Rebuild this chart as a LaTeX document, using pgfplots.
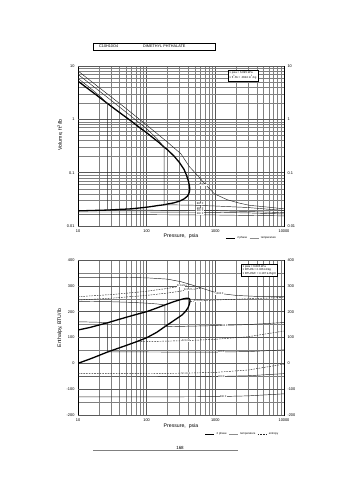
\documentclass[border=0pt]{standalone}
\usepackage{fontspec}
\setmainfont{Liberation Sans}
\usepackage{pgfplots}
\pgfplotsset{compat=1.18}
\newcommand{\tk}{\fontsize{3.9}{4.2}\selectfont}
\newcommand{\lb}{\fontsize{5.2}{5.7}\selectfont}
\newcommand{\sm}{\fontsize{2.8}{3.3}\selectfont}
\tikzset{
  satl/.style={black, line width=1.3bp},
  isol/.style={black!85, line width=0.45bp},
  entl/.style={black!85, line width=0.45bp, dash pattern=on 1.6bp off 1.1bp},
  labl/.style={font=\fontsize{2.6}{2.8}\selectfont, fill=white, inner sep=0.3bp},
}
\begin{document}
\begin{tikzpicture}
\path[use as bounding box] (0bp,0bp) rectangle (355bp,480bp);
% title box
\draw[line width=0.45bp] (93bp,430bp) rectangle (215bp,437bp);
\node[anchor=west, inner sep=0pt, font=\fontsize{3.8}{4}\selectfont] at (99bp,433.5bp) {C10H10O4};
\node[anchor=west, inner sep=0pt, font=\fontsize{3.8}{4}\selectfont] at (143bp,433.5bp) {DIMETHYL PHTHALATE};

% ================= TOP: Volume =================
\begin{axis}[
  at={(78bp,254bp)}, anchor=south west, scale only axis, width=206bp, height=160bp,
  xmode=log, ymode=log, xmin=10, xmax=10000, ymin=0.01, ymax=10,
  xtick={10,100,1000,10000},
  xticklabels={\mbox{10},\mbox{100},\mbox{1000},\mbox{10000}},
  minor xtick={20,30,40,50,60,70,80,90,200,300,400,500,600,700,800,900,2000,3000,4000,5000,6000,7000,8000,9000},
  ytick={0.01,0.1,1,10},
  yticklabels={\mbox{0.01},\mbox{0.1},\mbox{1},\mbox{10}},
  minor ytick={0.02,0.03,0.04,0.05,0.06,0.07,0.08,0.09,0.2,0.3,0.4,0.5,0.6,0.7,0.8,0.9,2,3,4,5,6,7,8,9},
  extra y ticks={0.01,0.1,1,10},
  extra y tick labels={\mbox{0.01},\mbox{0.1},\mbox{1},\mbox{10}},
  extra y tick style={yticklabel pos=right},
  grid=both,
  major grid style={black!65, line width=0.4bp},
  minor grid style={black!50, line width=0.3bp},
  major tick length=0pt, minor tick length=0pt,
  tick label style={font=\tk},
  axis line style={line width=0.55bp},
  xlabel={Pressure,\ \ psia},
  xlabel style={font=\lb, at={(axis description cs:0.5,-0.065)}, anchor=center},
  ylabel={Volume, ft\textsuperscript{3}/lb},
  ylabel style={font=\lb, at={(axis description cs:-0.088,0.57)}, anchor=center},
  legend style={draw=none, fill=none, font=\sm, legend columns=-1,
      at={(axis description cs:0.7,-0.075)}, anchor=west},
  legend image code/.code={\draw[#1] (0bp,0bp) -- (9bp,0bp);},
]
\addlegendimage{satl, line width=0.9bp}\addlegendentry{2 phase\hspace{4bp}}
\addlegendimage{black!45, line width=0.8bp}\addlegendentry{temperature}
% saturation dome
\addplot[satl, forget plot] coordinates {
(10,5.2)(15,3.5)(20,2.65)(30,1.78)(40,1.35)(60,0.92)(80,0.69)(100,0.56)(150,0.37)(180,0.30)(200,0.27)(250,0.205)(300,0.155)(350,0.115)(380,0.09)(405,0.07)(418,0.058)(424,0.05)(420,0.044)(410,0.040)(390,0.036)(350,0.0322)(300,0.0292)(250,0.0272)(200,0.0258)(180,0.025)(150,0.0243)(100,0.0225)(60,0.021)(27,0.0199)(20,0.0197)(10,0.0192)};
% 1000 F
\addplot[isol, forget plot] coordinates {
(10,8.07)(20,4.0)(50,1.6)(100,0.78)(200,0.375)(316,0.225)(418,0.13)(525,0.095)(700,0.062)(970,0.040)(1500,0.031)(2200,0.027)(3100,0.0245)(6000,0.0225)(10000,0.021)};
% 800 F
\addplot[isol, forget plot] coordinates {
(10,6.97)(30,2.3)(60,1.13)(100,0.665)(140,0.44)(180,0.30)(180,0.025)(500,0.0245)(1000,0.0237)(3000,0.0222)(10000,0.0195)};
% 600 F
\addplot[isol, forget plot] coordinates {
(10,5.86)(15,3.88)(20,2.85)(27,1.97)(27,0.0199)(100,0.0198)(1000,0.0194)(3000,0.0187)(10000,0.0178)};
% 400 F
\addplot[isol, forget plot] coordinates {(10,0.0183)(100,0.0183)(1000,0.018)(3000,0.0176)(10000,0.0168)};
% 200 F
\addplot[isol, forget plot] coordinates {(10,0.0163)(100,0.0163)(1000,0.0161)(3000,0.0158)(10000,0.0155)};
\node[labl] at (axis cs:660,0.059) {1000 F};
\node[labl, anchor=south] at (axis cs:600,0.0245) {800 F};
\node[labl, anchor=south] at (axis cs:600,0.0196) {600 F};
\node[labl, anchor=south] at (axis cs:600,0.0181) {400 F};
\node[labl, anchor=south] at (axis cs:600,0.0161) {200 F};
\node[draw, line width=0.4bp, fill=white, anchor=north west, align=left, inner sep=1.5bp, font=\sm]
  at (axis description cs:0.727,0.975) {1 psia = 6.895 kPa\\1 ft\textsuperscript{3}/lb = .0624 m\textsuperscript{3}/kg};
\end{axis}

% ================= BOTTOM: Enthalpy =================
\begin{axis}[
  at={(78bp,65bp)}, anchor=south west, scale only axis, width=206bp, height=155bp,
  xmode=log, xmin=10, xmax=10000, ymin=-200, ymax=400,
  xtick={10,100,1000,10000},
  xticklabels={\mbox{10},\mbox{100},\mbox{1000},\mbox{10000}},
  minor xtick={20,30,40,50,60,70,80,90,200,300,400,500,600,700,800,900,2000,3000,4000,5000,6000,7000,8000,9000},
  ytick={-200,-100,0,100,200,300,400},
  yticklabels={\mbox{-200},\mbox{-100},\mbox{0},\mbox{100},\mbox{200},\mbox{300},\mbox{400}},
  minor ytick={-150,-50,50,150,250,350},
  extra y ticks={-200,-100,0,100,200,300,400},
  extra y tick labels={\mbox{-200},\mbox{-100},\mbox{0},\mbox{100},\mbox{200},\mbox{300},\mbox{400}},
  extra y tick style={yticklabel pos=right},
  grid=both,
  major grid style={black!65, line width=0.4bp},
  minor grid style={black!50, line width=0.3bp},
  major tick length=0pt, minor tick length=0pt,
  tick label style={font=\tk},
  axis line style={line width=0.55bp},
  xlabel={Pressure,\ \ psia},
  xlabel style={font=\lb, at={(axis description cs:0.5,-0.075)}, anchor=center},
  ylabel={Enthalpy, BTU/lb},
  ylabel style={font=\lb, at={(axis description cs:-0.088,0.56)}, anchor=center},
  legend style={draw=none, fill=none, font=\sm, legend columns=-1,
      at={(axis description cs:0.6,-0.123)}, anchor=west},
  legend image code/.code={\draw[#1] (0bp,0bp) -- (9bp,0bp);},
]
\addlegendimage{satl, line width=0.9bp}\addlegendentry{2 phase\hspace{4bp}}
\addlegendimage{black!45, line width=0.8bp}\addlegendentry{temperature\hspace{2bp}}
\addlegendimage{entl}\addlegendentry{entropy}
% dome
\addplot[satl, forget plot] coordinates {
(10,0)(15,17)(20,30)(27,44)(40,60)(50,69)(70,83)(100,99)(140,120)(184,142)(250,166)(327,187)(370,202)(400,215)(415,226)(425,236)(428,243)(422,249)(405,251.5)(380,252)(340,249.5)(300,245.5)(250,239)(184,226)(140,214)(100,200)(70,189)(50,178)(35,166)(27,157)(20,148)(15,139)(10,129)};
% isotherms
\addplot[isol, forget plot] coordinates {(10,161)(20,159)(27,157)(27,44)(100,44)(300,43.5)(1000,43.5)(3000,45.5)(10000,52)};
\addplot[isol, forget plot] coordinates {(10,240)(30,238.5)(60,236)(100,233)(140,230)(184,226)(184,142)(300,143)(1000,146)(3000,150)(10000,158)};
\addplot[isol, forget plot] coordinates {(10,333)(50,332.5)(100,331)(200,326)(316,316)(450,304)(620,292)(900,278)(1200,270)(2000,263)(4000,259)(10000,259)};
\addplot[isol, forget plot] coordinates {(10,-52)(100,-52)(1000,-51)(3000,-48)(10000,-40)};
\addplot[isol, forget plot] coordinates {(10,-130)(100,-130)(1000,-129)(3000,-126)(10000,-118)};
% isentropes
\addplot[entl, forget plot] coordinates {(10,258)(30,266)(100,279)(200,290)(300,298)(420,305)};
\addplot[entl, forget plot] coordinates {(10,245)(30,252)(100,263)(200,272)(300,279)(400,284)(620,291)};
\addplot[entl, forget plot] coordinates {(430,240)(550,241)(1000,245)(3000,250)(10000,255)};
\addplot[entl, forget plot] coordinates {(75,84)(200,86)(374,88)(1000,93)(3000,103)(10000,125)};
\addplot[entl, forget plot] coordinates {(10,-40)(100,-39.5)(374,-38)(1000,-35)(3000,-26)(10000,-3)};
% labels
\node[labl] at (axis cs:316,302) {S=0.29};
\node[labl] at (axis cs:400,284) {S=0.27};
\node[labl] at (axis cs:560,241) {S=0.25};
\node[labl] at (axis cs:374,88) {S=0.10};
\node[labl] at (axis cs:374,-38) {S=-0.01};
\node[labl] at (axis cs:1150,270) {1000 F};
\node[labl] at (axis cs:1350,147) {800 F};
\node[labl] at (axis cs:1230,43.5) {600 F};
\node[labl] at (axis cs:1230,-51) {400 F};
\node[labl] at (axis cs:1300,-129) {200 F};
\node[draw, line width=0.4bp, fill=white, anchor=north east, align=left, inner sep=1.5bp, font=\sm]
  at (axis description cs:0.97,0.975) {1 psia = 6.895 kPa\\1 BTU/lb = 2.326 kJ/kg\\1 BTU/lb/F = 4.187 kJ/kg/K};
\node[anchor=west, inner sep=0pt, font=\fontsize{2.9}{3.2}\selectfont\bfseries] at (axis description cs:-0.025,-0.123)
  {Datum: Ideal Gas @ 77 F (25 C), H = 0, S = 0 for P = 1};
\end{axis}

% page number
\draw[black!50, line width=0.3bp] (93bp,30bp) -- (238bp,30bp);
\node[anchor=base, inner sep=0pt, font=\fontsize{4.5}{5}\selectfont] at (180bp,30.5bp) {168};
\end{tikzpicture}
\end{document}
